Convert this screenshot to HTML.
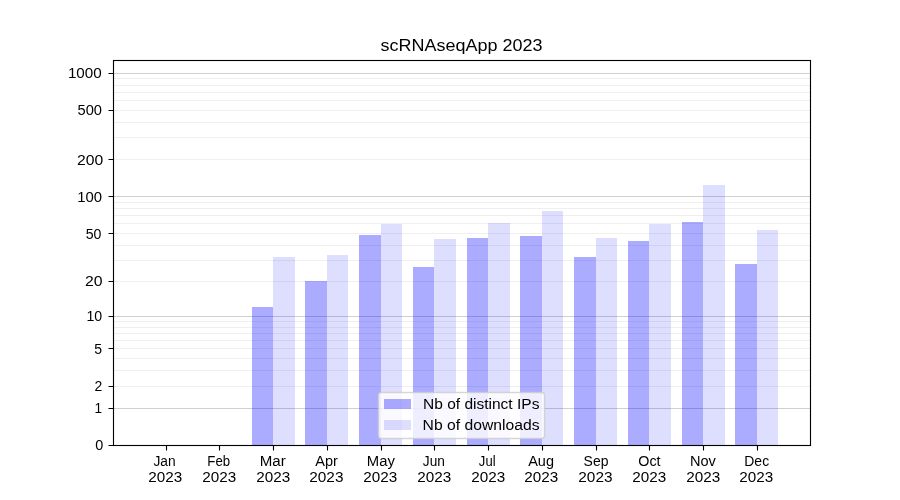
<!DOCTYPE html>
<html><head><meta charset="utf-8"><title>scRNAseqApp 2023</title><style>html,body{margin:0;padding:0;background:#fff;width:900px;height:500px;overflow:hidden}svg{display:block}text{font-family:"Liberation Sans",sans-serif;fill:#000}.t{will-change:transform}</style></head><body>
<svg width="900" height="500" viewBox="0 0 900 500">
<rect x="0" y="0" width="900" height="500" fill="#fff"/>
<path d="M113.5 78.5H810.5M113.5 85.5H810.5M113.5 92.5H810.5M113.5 100.5H810.5M113.5 110.5H810.5M113.5 122.5H810.5M113.5 137.5H810.5M113.5 159.5H810.5M113.5 202.5H810.5M113.5 208.5H810.5M113.5 215.5H810.5M113.5 223.5H810.5M113.5 233.5H810.5M113.5 245.5H810.5M113.5 260.5H810.5M113.5 281.5H810.5M113.5 321.5H810.5M113.5 327.5H810.5M113.5 333.5H810.5M113.5 340.5H810.5M113.5 348.5H810.5M113.5 358.5H810.5M113.5 370.5H810.5M113.5 386.5H810.5" stroke="#b0b0b0" stroke-opacity="0.2" stroke-width="1.11" fill="none"/>
<path d="M113.5 73.5H810.5M113.5 196.5H810.5M113.5 316.5H810.5M113.5 408.5H810.5" stroke="#b0b0b0" stroke-opacity="0.6" stroke-width="1.11" fill="none"/>
<path d="M252 307H273V445H252ZM305 281H327V445H305ZM359 235H381V445H359ZM413 267H434V445H413ZM467 238H488V445H467ZM520 236H542V445H520ZM574 257H596V445H574ZM628 241H649V445H628ZM682 222H703V445H682ZM735 264H757V445H735Z" fill="#0000ff" fill-opacity="0.33" shape-rendering="crispEdges"/>
<path d="M273 257H295V445H273ZM327 255H348V445H327ZM381 224H402V445H381ZM434 239H456V445H434ZM488 223H510V445H488ZM542 211H563V445H542ZM596 238H617V445H596ZM649 224H671V445H649ZM703 185H725V445H703ZM757 230H778V445H757Z" fill="#0000ff" fill-opacity="0.13" shape-rendering="crispEdges"/>
<rect x="113.5" y="60.5" width="697" height="385" fill="none" stroke="#000" stroke-width="1.11"/>
<path d="M108.5 445.5H113.5M108.5 408.5H113.5M108.5 386.5H113.5M108.5 348.5H113.5M108.5 316.5H113.5M108.5 281.5H113.5M108.5 233.5H113.5M108.5 196.5H113.5M108.5 159.5H113.5M108.5 110.5H113.5M108.5 73.5H113.5M166.5 445.5V450.5M219.5 445.5V450.5M273.5 445.5V450.5M327.5 445.5V450.5M381.5 445.5V450.5M434.5 445.5V450.5M488.5 445.5V450.5M542.5 445.5V450.5M596.5 445.5V450.5M649.5 445.5V450.5M703.5 445.5V450.5M757.5 445.5V450.5" stroke="#000" stroke-width="1.11" fill="none"/>
<g class="t">
<text x="380.55" y="51.27" font-size="16.67" textLength="161.83" lengthAdjust="spacingAndGlyphs">scRNAseqApp 2023</text>
<text x="95.36" y="450.00" font-size="14.00" textLength="8.04" lengthAdjust="spacingAndGlyphs">0</text>
<text x="94.61" y="412.86" font-size="14.00" textLength="7.59" lengthAdjust="spacingAndGlyphs">1</text>
<text x="94.48" y="391.00" font-size="14.00" textLength="7.77" lengthAdjust="spacingAndGlyphs">2</text>
<text x="94.38" y="353.90" font-size="14.00" textLength="7.81" lengthAdjust="spacingAndGlyphs">5</text>
<text x="86.46" y="320.90" font-size="14.00" textLength="15.78" lengthAdjust="spacingAndGlyphs">10</text>
<text x="85.01" y="286.00" font-size="14.00" textLength="17.59" lengthAdjust="spacingAndGlyphs">20</text>
<text x="85.67" y="238.60" font-size="14.00" textLength="15.73" lengthAdjust="spacingAndGlyphs">50</text>
<text x="77.18" y="201.70" font-size="14.00" textLength="24.86" lengthAdjust="spacingAndGlyphs">100</text>
<text x="77.10" y="165.00" font-size="14.00" textLength="26.23" lengthAdjust="spacingAndGlyphs">200</text>
<text x="77.51" y="115.20" font-size="14.00" textLength="24.45" lengthAdjust="spacingAndGlyphs">500</text>
<text x="67.91" y="78.00" font-size="14.00" textLength="33.84" lengthAdjust="spacingAndGlyphs">1000</text>
<text x="153.42" y="466.00" font-size="14.00" textLength="22.16" lengthAdjust="spacingAndGlyphs">Jan</text>
<text x="148.33" y="482.10" font-size="14.00" textLength="33.95" lengthAdjust="spacingAndGlyphs">2023</text>
<text x="207.32" y="466.00" font-size="14.00" textLength="22.75" lengthAdjust="spacingAndGlyphs">Feb</text>
<text x="202.33" y="482.10" font-size="14.00" textLength="33.95" lengthAdjust="spacingAndGlyphs">2023</text>
<text x="259.80" y="466.00" font-size="14.00" textLength="26.01" lengthAdjust="spacingAndGlyphs">Mar</text>
<text x="256.33" y="482.10" font-size="14.00" textLength="33.95" lengthAdjust="spacingAndGlyphs">2023</text>
<text x="315.21" y="466.00" font-size="14.00" textLength="22.58" lengthAdjust="spacingAndGlyphs">Apr</text>
<text x="309.29" y="482.10" font-size="14.00" textLength="34.17" lengthAdjust="spacingAndGlyphs">2023</text>
<text x="366.87" y="466.00" font-size="14.00" textLength="28.06" lengthAdjust="spacingAndGlyphs">May</text>
<text x="363.33" y="482.10" font-size="14.00" textLength="33.95" lengthAdjust="spacingAndGlyphs">2023</text>
<text x="422.84" y="466.00" font-size="14.00" textLength="22.03" lengthAdjust="spacingAndGlyphs">Jun</text>
<text x="417.33" y="482.10" font-size="14.00" textLength="33.95" lengthAdjust="spacingAndGlyphs">2023</text>
<text x="478.86" y="466.00" font-size="14.00" textLength="16.69" lengthAdjust="spacingAndGlyphs">Jul</text>
<text x="471.33" y="482.10" font-size="14.00" textLength="33.95" lengthAdjust="spacingAndGlyphs">2023</text>
<text x="528.19" y="466.00" font-size="14.00" textLength="25.76" lengthAdjust="spacingAndGlyphs">Aug</text>
<text x="524.32" y="482.10" font-size="14.00" textLength="33.93" lengthAdjust="spacingAndGlyphs">2023</text>
<text x="583.60" y="466.00" font-size="14.00" textLength="24.86" lengthAdjust="spacingAndGlyphs">Sep</text>
<text x="578.30" y="482.10" font-size="14.00" textLength="34.23" lengthAdjust="spacingAndGlyphs">2023</text>
<text x="638.33" y="466.00" font-size="14.00" textLength="22.26" lengthAdjust="spacingAndGlyphs">Oct</text>
<text x="632.33" y="482.10" font-size="14.00" textLength="33.95" lengthAdjust="spacingAndGlyphs">2023</text>
<text x="689.92" y="466.00" font-size="14.00" textLength="25.91" lengthAdjust="spacingAndGlyphs">Nov</text>
<text x="686.33" y="482.10" font-size="14.00" textLength="33.95" lengthAdjust="spacingAndGlyphs">2023</text>
<text x="744.30" y="466.00" font-size="14.00" textLength="24.82" lengthAdjust="spacingAndGlyphs">Dec</text>
<text x="739.33" y="482.10" font-size="14.00" textLength="33.95" lengthAdjust="spacingAndGlyphs">2023</text>
<rect x="378.5" y="392.5" width="166" height="46" rx="2.78" ry="2.78" fill="#fff" fill-opacity="0.8" stroke="#ccc" stroke-opacity="0.8" stroke-width="1.39"/>
<rect x="384" y="399" width="27" height="10" fill="#0000ff" fill-opacity="0.33" shape-rendering="crispEdges"/>
<rect x="384" y="420" width="27" height="10" fill="#0000ff" fill-opacity="0.13" shape-rendering="crispEdges"/>
<text x="423.00" y="408.80" font-size="14.00" textLength="116.40" lengthAdjust="spacingAndGlyphs">Nb of distinct IPs</text>
<text x="422.55" y="429.70" font-size="14.00" textLength="116.96" lengthAdjust="spacingAndGlyphs">Nb of downloads</text>
</g>
</svg></body></html>
